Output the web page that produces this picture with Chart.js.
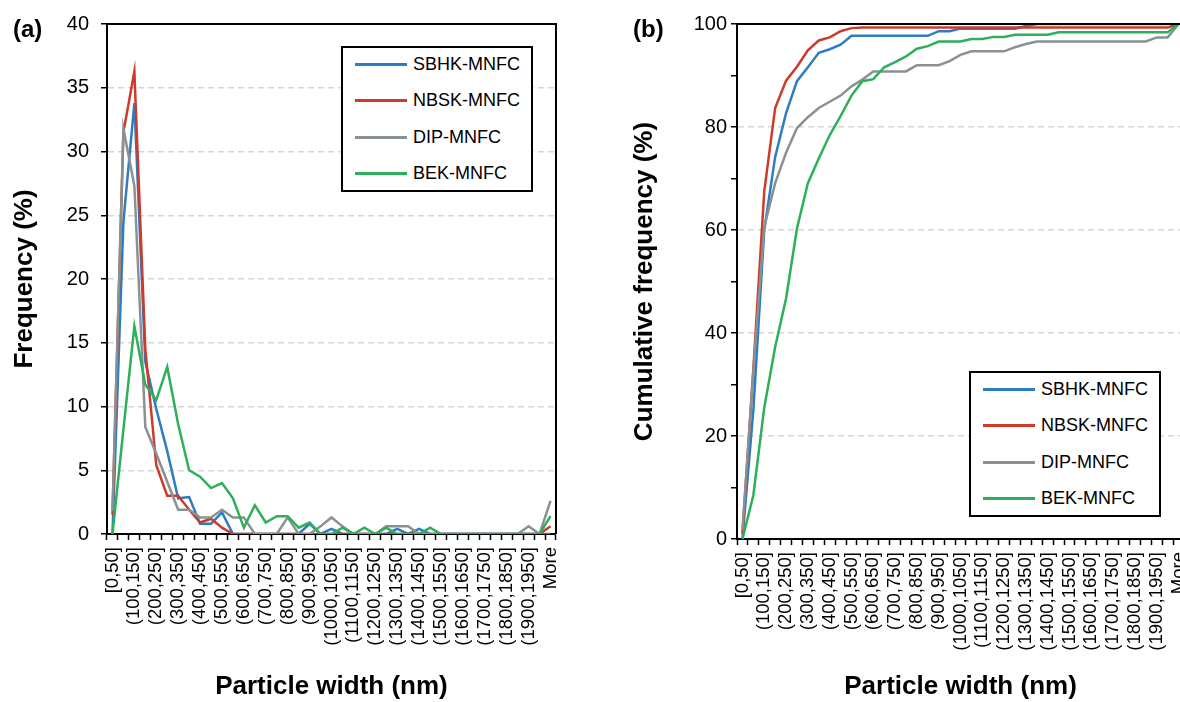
<!DOCTYPE html>
<html>
<head>
<meta charset="utf-8">
<script src="https://cdn.jsdelivr.net/npm/chart.js@4.4.1/dist/chart.umd.min.js"></script>
<style>
html,body{margin:0;padding:0;background:#fff;width:1180px;height:702px;overflow:hidden;position:relative;}
.wrap{position:absolute;top:0;height:702px;}
.panel{position:absolute;font-family:"Liberation Sans",Arial,sans-serif;font-weight:bold;font-size:24px;line-height:28px;color:#000;}
.legend{position:absolute;border:2px solid #000;background:#fff;box-sizing:border-box;width:192px;height:146px;font-family:"Liberation Sans",Arial,sans-serif;font-size:18px;color:#000;}
.legend .item{position:absolute;left:12px;height:22px;display:flex;align-items:center;white-space:nowrap;}
.legend .swatch{width:52px;height:3px;margin-right:6px;}
</style>
</head>
<body>
<div class="wrap" style="left:0;width:580px;"><canvas id="chartA" width="580" height="702"></canvas></div>
<div class="wrap" style="left:600px;width:640px;"><canvas id="chartB" width="640" height="702"></canvas></div>
<div class="panel" style="left:13px;top:15px;">(a)</div>
<div class="panel" style="left:633px;top:15px;">(b)</div>
<div class="legend" id="legendA" style="left:341px;top:46px;"></div>
<div class="legend" id="legendB" style="left:969px;top:371px;"></div>
<script>
const categories = ['[0,50]','(50,100]','(100,150]','(150,200]','(200,250]','(250,300]','(300,350]','(350,400]','(400,450]','(450,500]','(500,550]','(550,600]','(600,650]','(650,700]','(700,750]','(750,800]','(800,850]','(850,900]','(900,950]','(950,1000]','(1000,1050]','(1050,1100]','(1100,1150]','(1150,1200]','(1200,1250]','(1250,1300]','(1300,1350]','(1350,1400]','(1400,1450]','(1450,1500]','(1500,1550]','(1550,1600]','(1600,1650]','(1650,1700]','(1700,1750]','(1750,1800]','(1800,1850]','(1850,1900]','(1900,1950]','(1950,2000]','More'];

const seriesNames = ['SBHK-MNFC','NBSK-MNFC','DIP-MNFC','BEK-MNFC'];
const seriesColors = ['#2E7DC0','#CC3B2B','#8A9192','#2DAF5B'];

// (a) Frequency (%)
const freqSBHK = [0,24.5,33.8,13.5,9.8,6.5,2.8,2.9,0.8,0.8,1.7,0,0,0,0,0,0,0,0.8,0,0.4,0,0,0,0,0,0.4,0,0.4,0,0,0,0,0,0,0,0,0,0,0,0];
const freqNBSK = [1.5,31.5,36.3,14.5,5.4,3.0,3.0,1.9,0.9,1.2,0.5,0,0,0,0,0,0,0,0,0,0,0,0,0,0,0,0,0,0,0,0,0,0,0,0,0,0,0,0,0,0.6];
const freqDIP  = [1.8,31.8,27.3,8.4,6.3,4.1,1.9,1.9,1.3,1.3,1.9,1.3,1.3,0,0,0,1.3,0,0,0.6,1.3,0.6,0,0,0,0.6,0.6,0.6,0,0,0,0,0,0,0,0,0,0,0.6,0,2.6];
const freqBEK  = [0,8.2,16.3,11.7,10.5,13.1,8.6,5.0,4.5,3.6,4.0,2.8,0.5,2.25,0.9,1.4,1.4,0.5,0.9,0,0,0.5,0,0.5,0,0.5,0,0,0,0.5,0,0,0,0,0,0,0,0,0,0,1.4];

// (b) Cumulative frequency (%)
const cumSBHK = [0,25,60,74.2,82.7,88.9,91.6,94.4,95.1,96.0,97.7,97.7,97.7,97.7,97.7,97.7,97.7,97.7,98.6,98.6,99.1,99.1,99.1,99.1,99.1,99.1,99.6,100,100,100,100,100,100,100,100,100,100,100,100,100,100];
const cumNBSK = [1.0,33,67.5,83.7,89.0,91.7,94.9,96.8,97.4,98.6,99.2,99.3,99.3,99.3,99.3,99.3,99.3,99.3,99.3,99.3,99.3,99.3,99.3,99.3,99.3,99.3,99.3,99.3,99.3,99.3,99.3,99.3,99.3,99.3,99.3,99.3,99.3,99.3,99.3,99.3,100];
const cumDIP  = [1.75,32.8,60.6,69.1,75.0,79.8,81.9,83.7,84.9,86.1,87.9,89.2,90.8,90.8,90.8,90.8,92.0,92.0,92.0,92.8,94.0,94.7,94.7,94.7,94.7,95.5,96.1,96.6,96.6,96.6,96.6,96.6,96.6,96.6,96.6,96.6,96.6,96.6,97.4,97.4,100];
const cumBEK  = [0,8.5,25.5,37.3,46.7,60.3,69.1,73.9,78.4,82.1,86.1,88.9,89.3,91.6,92.6,93.7,95.2,95.7,96.6,96.6,96.6,97.1,97.1,97.5,97.5,97.9,97.9,97.9,97.9,98.4,98.4,98.4,98.4,98.4,98.4,98.4,98.4,98.4,98.4,98.4,100];

const FONT = "'Liberation Sans', Arial, sans-serif";

const framePlugin = {
  id: 'frame',
  afterDraw(chart) {
    const ctx = chart.ctx, a = chart.chartArea;
    ctx.save();
    ctx.strokeStyle = '#000';
    ctx.lineWidth = 2;
    ctx.beginPath();
    ctx.moveTo(a.left, a.top);
    ctx.lineTo(a.right, a.top);
    ctx.lineTo(a.right, a.bottom);
    ctx.stroke();
    ctx.restore();
  }
};

function buildChart(id, arrays, cfg) {
  return new Chart(document.getElementById(id), {
    type: 'line',
    data: {
      labels: categories,
      datasets: arrays.map((d, k) => ({
        label: seriesNames[k],
        data: d,
        borderColor: seriesColors[k],
        backgroundColor: seriesColors[k],
        borderWidth: 2.5,
        pointRadius: 0,
        pointHoverRadius: 0,
        tension: 0,
        fill: false,
        order: arrays.length - k
      }))
    },
    options: {
      responsive: false,
      animation: false,
      layout: { padding: cfg.pad },
      plugins: { legend: { display: false }, tooltip: { enabled: false } },
      scales: {
        x: {
          type: 'category',
          offset: true,
          grid: { display: true, offset: true, drawOnChartArea: false, drawTicks: true, tickLength: 6, tickColor: '#000', tickWidth: 1.5, tickBorderDash: [] },
          border: { display: true, color: '#000', width: 2 },
          ticks: {
            autoSkip: false, maxRotation: 90, minRotation: 90, padding: 7, color: '#000',
            font: { family: FONT, size: 18.5 },
            callback: (v, i) => (i % 2 === 0 ? categories[i] : '')
          },
          title: { display: true, text: 'Particle width (nm)', color: '#000', font: { family: FONT, size: 26, weight: 'bold' }, padding: { top: 0, bottom: 0 } },
          afterFit: (s) => { s.height = cfg.xH; }
        },
        y: {
          min: 0, max: cfg.yMax,
          ticks: {
            stepSize: cfg.yStep, color: '#000', padding: cfg.yTickPad,
            font: { family: FONT, size: 20 },
            callback: (v) => (v % cfg.yLabelEvery === 0 ? String(v) : '')
          },
          grid: {
            color: (c) => (c.tick && c.tick.value % cfg.yLabelEvery === 0 && c.tick.value > 0 && c.tick.value < cfg.yMax) ? '#D6D6D6' : 'rgba(0,0,0,0)',
            lineWidth: 1.5, drawTicks: true, tickLength: 6, tickColor: '#000', tickWidth: 1.5, tickBorderDash: []
          },
          border: { display: true, color: '#000', width: 2, dash: [6, 4] },
          title: { display: true, text: cfg.yTitle, color: '#000', font: { family: FONT, size: 26, weight: 'bold' }, padding: { top: cfg.yTitlePad, bottom: 0 } },
          afterFit: (s) => { s.width = cfg.yW; }
        }
      }
    },
    plugins: [framePlugin]
  });
}

buildChart('chartA', [freqSBHK, freqNBSK, freqDIP, freqBEK], {
  pad: { top: 24, right: 24, left: 0, bottom: 0 },
  xH: 168, yW: 107, yMax: 40, yStep: 5, yLabelEvery: 5, yTickPad: 12,
  yTitle: 'Frequency (%)', yTitlePad: 9
});

buildChart('chartB', [cumSBHK, cumNBSK, cumDIP, cumBEK], {
  pad: { top: 24, right: 56, left: 0, bottom: 0 },
  xH: 163, yW: 137, yMax: 100, yStep: 10, yLabelEvery: 20, yTickPad: 4,
  yTitle: 'Cumulative frequency (%)', yTitlePad: 29
});

function buildLegend(id) {
  const box = document.getElementById(id);
  seriesNames.forEach((name, k) => {
    const it = document.createElement('div');
    it.className = 'item';
    it.style.top = (5 + 36.5 * k) + 'px';
    const sw = document.createElement('div');
    sw.className = 'swatch';
    sw.style.background = seriesColors[k];
    const tx = document.createElement('span');
    tx.textContent = name;
    it.appendChild(sw);
    it.appendChild(tx);
    box.appendChild(it);
  });
}
buildLegend('legendA');
buildLegend('legendB');
</script>
</body>
</html>
